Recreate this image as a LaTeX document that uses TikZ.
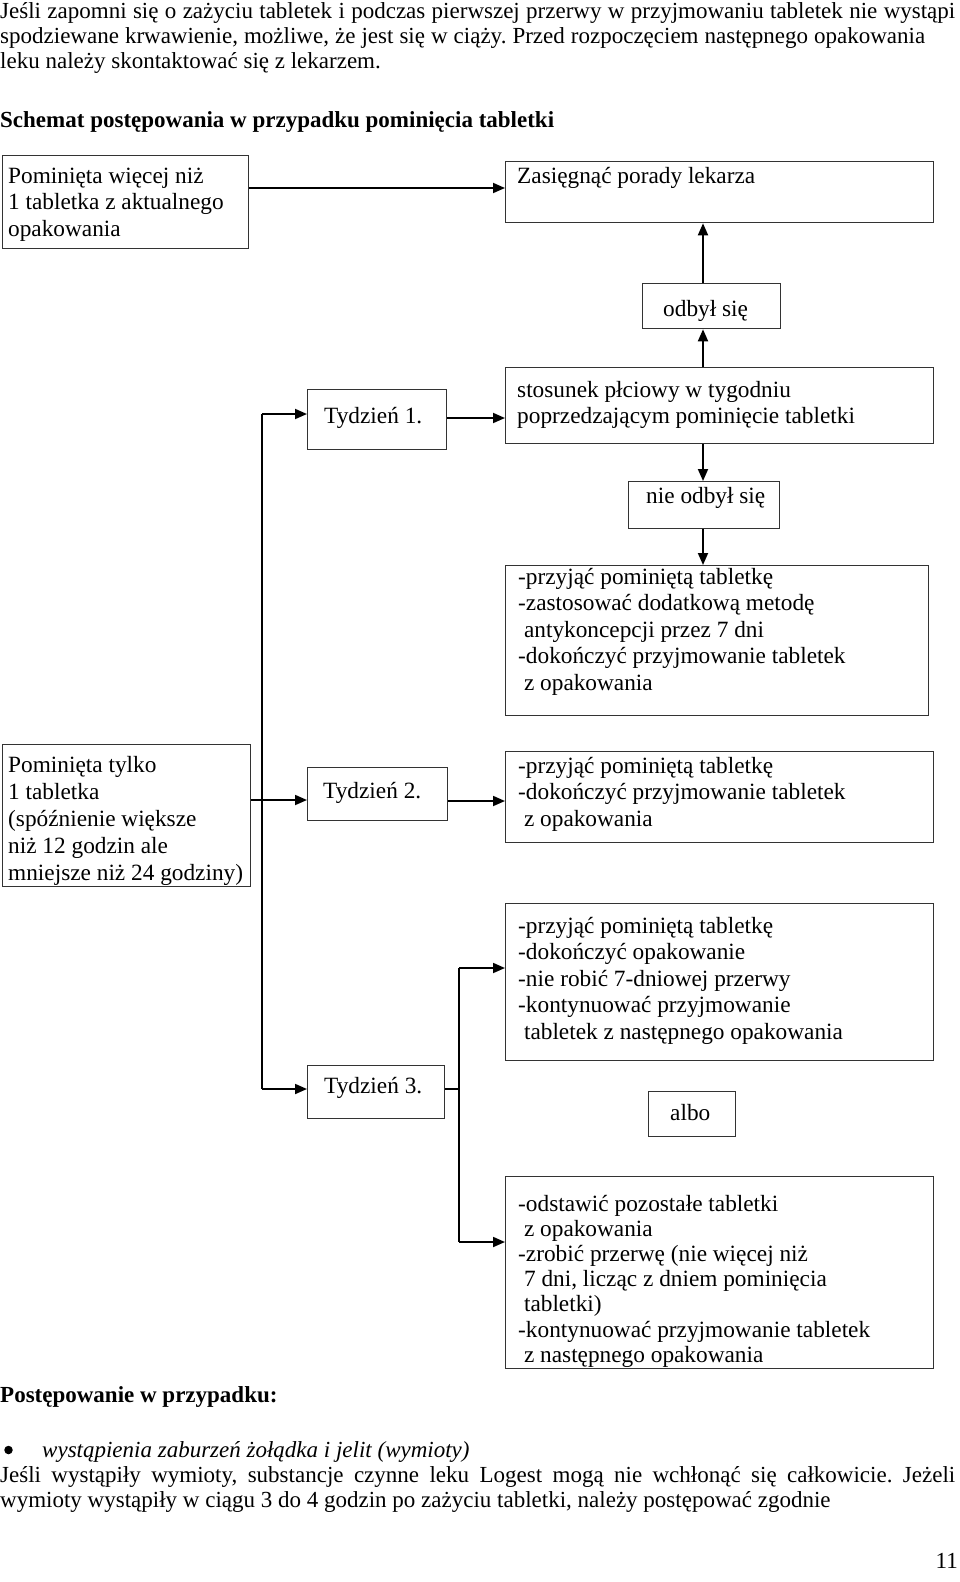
\documentclass[tikz,border=0pt]{standalone}
\usepackage{fontspec}
\setmainfont{Liberation Serif}
\usetikzlibrary{arrows.meta,calc}
\newcommand{\blines}[1]{\begin{tabular}[t]{@{}l@{}}#1\end{tabular}}
\frenchspacing
\begin{document}
\begin{tikzpicture}[x=1pt,y=-1pt,
  box/.style={draw=black!80,line width=1.3pt,minimum width=#1,inner sep=0pt,anchor=north west},
  txt/.style={inner sep=0pt,anchor=base west,font=\fontsize{23.3}{26.5}\selectfont},
  ptxt/.style={inner sep=0pt,anchor=base west,font=\fontsize{23}{25}\selectfont},
  conn/.style={line width=1.8pt,black},
  arr/.style={conn,-{Triangle[length=12pt,width=10pt]}}]
\useasboundingbox (0,0) rectangle (960,1582);
\fill[white] (0,0) rectangle (960,1582);

% page text
\node[ptxt] (l1) at (0,18) {\makebox[955pt][s]{Jeśli zapomni się o zażyciu tabletek i podczas pierwszej przerwy w przyjmowaniu tabletek nie wystąpi}};
\node[ptxt] (l2) at (0,43) {\makebox[925pt][s]{spodziewane krwawienie, możliwe, że jest się w ciąży. Przed rozpoczęciem następnego opakowania}};
\node[ptxt] (l3) at (0,68) {leku należy skontaktować się z lekarzem.};
\node[ptxt,font=\fontsize{23}{25}\selectfont\bfseries] (sch) at (0,127) {Schemat postępowania w przypadku pominięcia tabletki};

% boxes
\node[box=246pt,minimum height=93pt] (b1) at (2,155) {};
\node[txt] at (8,183) {\blines{Pominięta więcej niż\\1 tabletka z aktualnego\\opakowania}};

\node[box=428pt,minimum height=61pt] (zas) at (505,161) {};
\node[txt] at (517,183) {Zasięgnąć porady lekarza};

\node[box=138pt,minimum height=45pt] (odb) at (642,283) {};
\node[txt] at (663,316) {odbył się};

\node[box=428pt,minimum height=76pt] (sto) at (505,367) {};
\node[txt] at (517,397) {\blines{stosunek płciowy w tygodniu\\poprzedzającym pominięcie tabletki}};

\node[box=139pt,minimum height=60pt] (t1) at (307,389) {};
\node[txt] at (324,423) {Tydzień 1.};

\node[box=151pt,minimum height=47pt] (nie) at (628,481) {};
\node[txt] at (646,503) {nie odbył się};

\node[box=423pt,minimum height=150pt] (p1) at (505,565) {};
\node[txt] at (518,584) {\blines{-przyjąć pominiętą tabletkę\\-zastosować dodatkową metodę\\\ antykoncepcji przez 7 dni\\-dokończyć przyjmowanie tabletek\\\ z opakowania}};

\node[box=248pt,minimum height=142pt] (b2) at (2,744) {};
\node[txt,font=\fontsize{23.3}{27}\selectfont] at (8,772) {\blines{Pominięta tylko\\1 tabletka\\(spóźnienie większe\\niż 12 godzin ale\\mniejsze niż 24 godziny)}};

\node[box=140pt,minimum height=53pt] (t2) at (307,767) {};
\node[txt] at (323,798) {Tydzień 2.};

\node[box=428pt,minimum height=91pt] (p2) at (505,751) {};
\node[txt] at (518,773) {\blines{-przyjąć pominiętą tabletkę\\-dokończyć przyjmowanie tabletek\\\ z opakowania}};

\node[box=428pt,minimum height=157pt] (p3) at (505,903) {};
\node[txt] at (518,933) {\blines{-przyjąć pominiętą tabletkę\\-dokończyć opakowanie\\-nie robić 7-dniowej przerwy\\-kontynuować przyjmowanie\\\ tabletek z następnego opakowania}};

\node[box=137pt,minimum height=53pt] (t3) at (307,1065) {};
\node[txt] at (324,1093) {Tydzień 3.};

\node[box=87pt,minimum height=45pt] (albo) at (648,1091) {};
\node[txt] at (670,1120) {albo};

\node[box=428pt,minimum height=192pt] (p4) at (505,1176) {};
\node[txt,font=\fontsize{23.3}{25.2}\selectfont] at (518,1211) {\blines{-odstawić pozostałe tabletki\\\ z opakowania\\-zrobić przerwę (nie więcej niż\\\ 7 dni, licząc z dniem pominięcia\\\ tabletki)\\-kontynuować przyjmowanie tabletek\\\ z następnego opakowania}};

% helper coordinates
\coordinate (cx) at (703,0);
\coordinate (sp) at (262,0);
\coordinate (j3) at (459,968);
\coordinate (j4) at (459,1242);

% connectors
\draw[arr] (b1.east |- 0,188) -- (zas.west |- 0,188);
\draw[arr] (sto.north -| cx) -- (odb.south -| cx);
\draw[arr] (odb.north -| cx) -- (zas.south -| cx);
\draw[arr] (t1.east |- 0,418) -- (sto.west |- 0,418);
\draw[arr] (sto.south -| cx) -- (nie.north -| cx);
\draw[arr] (nie.south -| cx) -- (p1.north -| cx);
\draw[conn] (sp |- 0,414) -- (sp |- 0,1089);
\draw[arr] (sp |- 0,414) -- (t1.west |- 0,414);
\draw[arr] (sp |- 0,1089) -- (t3.west |- 0,1089);
\draw[arr] (b2.east |- 0,800) -- (t2.west |- 0,800);
\draw[arr] (t2.east |- 0,801) -- (p2.west |- 0,801);
\draw[conn] (t3.east |- 0,1089) -- (j3 |- 0,1089);
\draw[conn] (j3) -- (j4);
\draw[arr] (j3) -- (j3 -| p3.west);
\draw[arr] (j4) -- (j4 -| p4.west);

% footer
\node[ptxt,font=\fontsize{23}{25}\selectfont\bfseries] (post) at (0,1402) {Postępowanie w przypadku:};
\node[circle,fill=black,inner sep=0pt,minimum size=8.5pt] (bul) at (8.5,1450) {};
\node[ptxt,font=\fontsize{23}{25}\selectfont\itshape] (it) at (42,1457) {wystąpienia zaburzeń żołądka i jelit (wymioty)};
\node[ptxt] (f1) at (0,1482) {\makebox[955pt][s]{Jeśli wystąpiły wymioty, substancje czynne leku Logest mogą nie wchłonąć się całkowicie. Jeżeli}};
\node[ptxt] (f2) at (0,1507) {wymioty wystąpiły w ciągu 3 do 4 godzin po zażyciu tabletki, należy postępować zgodnie};
\node[ptxt,anchor=base east] (pg) at (958,1568) {11};
\end{tikzpicture}
\end{document}
